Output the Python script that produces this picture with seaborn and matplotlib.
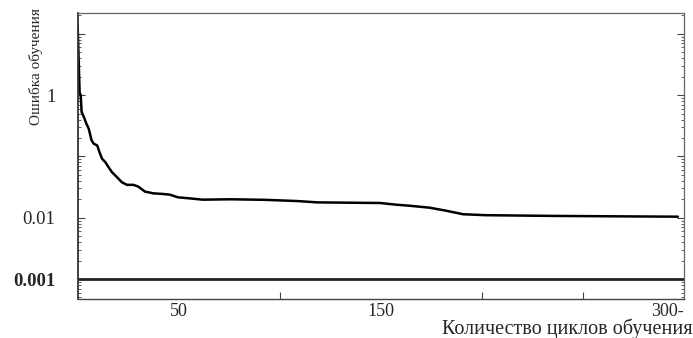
import numpy as np
import pandas as pd
import matplotlib
matplotlib.use("Agg")
import matplotlib.pyplot as plt
import matplotlib.ticker as mticker
import seaborn as sns

# training error vs. number of training cycles
cycles = [0, 1.0, 1.5, 2.0, 3.1, 4.3, 5.5, 6.9, 8.0, 9.7, 10.8, 12.1, 13.7, 15.3,
          17.0, 19.5, 21.9, 24.4, 27.6, 30.0, 33.3, 37.4, 41.5, 45.6, 49.7, 55.4,
          61.9, 75.5, 92.6, 108.8, 118.6, 133.3, 149.5, 157.8, 164.2, 174, 182.4,
          190.7, 202, 236.3, 275.5, 297]
error = [14.0, 1.08, 1.01, 0.53, 0.44, 0.344, 0.284, 0.183, 0.161, 0.151, 0.118,
         0.0917, 0.0807, 0.0668, 0.0553, 0.0458, 0.0379, 0.0344, 0.0344, 0.0322,
         0.0267, 0.0250, 0.0245, 0.0238, 0.0215, 0.0207, 0.0197, 0.0200, 0.0196,
         0.0187, 0.0178, 0.0176, 0.0174, 0.0163, 0.0157, 0.0146, 0.0130, 0.0114,
         0.0110, 0.0107, 0.0105, 0.0104]
threshold = 0.001

y_labels = {1: "1", 0.01: "0.01", 0.001: "0.001"}
x_labels = [50, 150, 300]
x_label_text = ["50", "150", "300-"]
x_small_ticks = [50, 100, 200, 250]

df = pd.DataFrame({"cycles": cycles, "error": error})

sns.set_style("white")
plt.rcParams["font.family"] = ["Liberation Serif", "DejaVu Serif"]

fig = plt.figure(figsize=(6.93, 3.38), dpi=100)
ax = fig.add_axes([0.112, 0.115, 0.875, 0.847])

sns.lineplot(data=df, x="cycles", y="error", color="black", linewidth=1.8, ax=ax)
ax.axhline(threshold, color="#222222", linewidth=2)

ax.set_yscale("log")
ax.set_ylim(4.7e-4, 22)
ax.set_xlim(0, 298)

# y ticks: decades, labels only for a few
ax.yaxis.set_major_locator(mticker.LogLocator(base=10, numticks=10))
ax.yaxis.set_minor_locator(mticker.LogLocator(base=10, subs=np.arange(2, 10), numticks=20))
ax.yaxis.set_major_formatter(mticker.FuncFormatter(
    lambda v, p: next((t for k, t in y_labels.items() if np.isclose(v, k)), "")))
ax.yaxis.set_minor_formatter(mticker.NullFormatter())

# x ticks: labels at 50/150/300, small inward marks elsewhere
ax.set_xticks(x_labels)
ax.set_xticklabels(x_label_text)
ax.set_xticks(x_small_ticks, minor=True)
ax.get_xticklabels()[-1].set_ha("right")

ax.tick_params(axis="y", which="major", direction="in", left=True, right=True,
               length=5, width=0.8, color="#444444", labelsize=13.5, pad=16)
ax.tick_params(axis="y", which="minor", direction="in", left=True, right=True,
               length=2.5, width=0.6, color="#444444")
ax.tick_params(axis="x", which="major", length=0, labelsize=13, pad=2.5)
ax.tick_params(axis="x", which="minor", direction="in", bottom=True,
               length=5, width=0.8, color="#444444")

for lbl in ax.get_yticklabels():
    if lbl.get_text() == "0.001":
        lbl.set_fontweight("bold")

ax.spines["left"].set_linewidth(1.3)
ax.spines["left"].set_color("#333333")
ax.spines["bottom"].set_linewidth(1.0)
ax.spines["bottom"].set_color("#444444")
for s in ["top", "right"]:
    ax.spines[s].set_linewidth(0.9)
    ax.spines[s].set_color("#666666")

ax.set_xlabel("")
ax.set_ylabel("")
fig.text(0.999, 0.012, "Количество циклов обучения", ha="right", va="baseline", fontsize=14.5)
fig.text(0.052, 0.975, "Ошибка обучения", ha="center", va="top", rotation=90, fontsize=11)

plt.savefig("out.png", dpi=100)
